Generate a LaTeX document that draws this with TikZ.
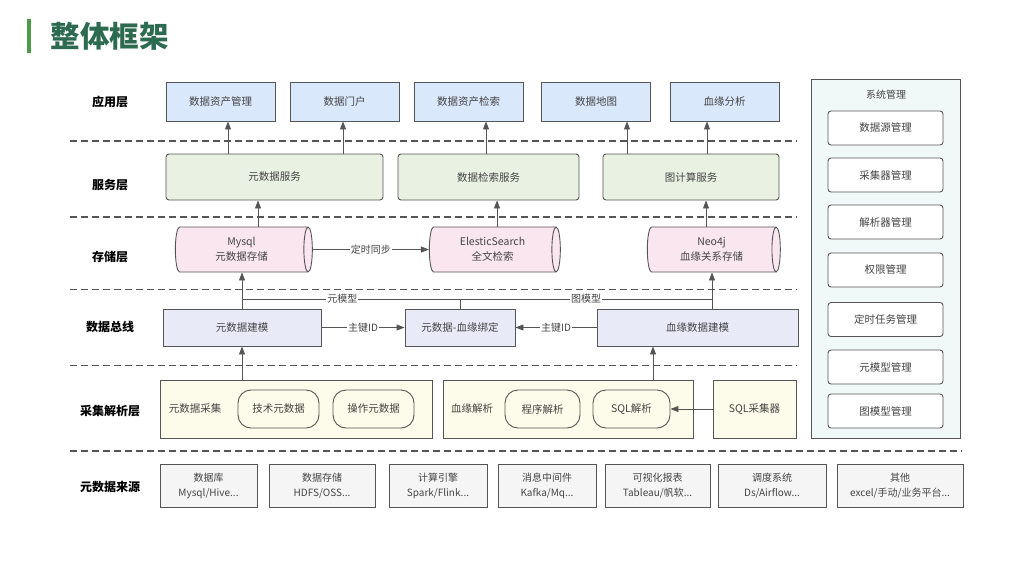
\documentclass[tikz,border=0pt]{standalone}
\usepackage{fontspec}
\setmainfont{Noto Sans CJK SC}
\usetikzlibrary{arrows.meta,shapes.geometric}
\definecolor{appfill}{HTML}{DAE8FC}
\definecolor{srvfill}{HTML}{E9F1E3}
\definecolor{cylfill}{HTML}{F9E6EE}
\definecolor{busfill}{HTML}{E8EAF8}
\definecolor{colfill}{HTML}{FDFBE9}
\definecolor{srcfill}{HTML}{F5F5F5}
\definecolor{sysfill}{HTML}{F1F8F8}
\definecolor{edge}{HTML}{555555}
\definecolor{txt}{HTML}{444444}
\definecolor{titlegreen}{HTML}{2C6B50}
\definecolor{bargreen}{HTML}{4E9A48}
\begin{document}
\begin{tikzpicture}[x=1pt,y=-1pt]
		\tikzset{box/.style={draw=edge, line width=0.9pt, text=txt, font=\fontsize{10.5}{15}\selectfont, align=center, inner sep=0pt}}
		\tikzset{appbox/.style={box, fill=appfill, minimum width=109pt, minimum height=39pt}}
		\tikzset{srvbox/.style={box, fill=srvfill, rounded corners=3pt, minimum height=46pt}}
		\tikzset{cyl/.style={box, cylinder, aspect=0.35, cylinder uses custom fill, cylinder body fill=cylfill, cylinder end fill=cylfill, minimum width=45pt}}
		\tikzset{busbox/.style={box, fill=busfill, minimum height=37pt}}
		\tikzset{colbox/.style={box, fill=colfill, minimum height=58pt}}
		\tikzset{pill/.style={box, fill=colfill, rounded corners=13pt, minimum height=38pt}}
		\tikzset{srcbox/.style={box, fill=srcfill, minimum height=43pt, font=\fontsize{10}{15}\selectfont}}
		\tikzset{sysbox/.style={box, fill=white, rounded corners=3pt, minimum width=115pt, minimum height=34pt}}
		\tikzset{layer/.style={font=\bfseries\fontsize{12}{14}\selectfont}}
		\tikzset{sep/.style={draw=edge, line width=1.1pt, dash pattern=on 7pt off 4pt}}
		\tikzset{arr/.style={draw=edge, line width=0.9pt, -{Triangle[length=8pt,width=6pt]}}}
		\tikzset{lbl/.style={fill=white, text=txt, font=\fontsize{10}{12}\selectfont, inner sep=1pt}}
		\useasboundingbox (0,0) rectangle (1024,576);

		\fill[bargreen] (27,19) rectangle (31,53);
		\node[anchor=west, text=titlegreen, font=\bfseries\fontsize{29.5}{32}\selectfont] (title) at (47,36) {整体框架};

		\draw[sep] (70,141) -- (797,141);
		\draw[sep] (70,217) -- (797,217);
		\draw[sep] (70,289.5) -- (797,289.5);
		\draw[sep] (70,365.5) -- (797,365.5);
		\draw[sep] (70,451) -- (962,451);

		\node[layer] (lapp) at (110,102) {应用层};
		\node[layer] (lsrv) at (110,185) {服务层};
		\node[layer] (lsto) at (110,257) {存储层};
		\node[layer] (lbus) at (110,327) {数据总线};
		\node[layer] (lcol) at (110,411) {采集解析层};
		\node[layer] (lsrc) at (110,487) {元数据来源};

		\node[appbox] (asset) at (220.5,101.5) {数据资产管理};
		\node[appbox] (portal) at (344.5,101.5) {数据门户};
		\node[appbox] (search) at (468.5,101.5) {数据资产检索};
		\node[appbox] (map) at (596,101.5) {数据地图};
		\node[appbox] (lineage) at (724.5,101.5) {血缘分析};

		\node[srvbox, minimum width=217pt] (metasrv) at (274.5,177) {元数据服务};
		\node[srvbox, minimum width=181pt] (searchsrv) at (488.5,177) {数据检索服务};
		\node[srvbox, minimum width=176pt] (graphsrv) at (691,177) {图计算服务};

		\node[cyl, minimum height=137pt] (mysql) at (241.5,249.5) {Mysql\\元数据存储};
		\node[cyl, minimum height=131pt] (es) at (492.5,249.5) {ElesticSearch\\全文检索};
		\node[cyl, minimum height=133pt] (neo) at (711.5,249.5) {Neo4j\\血缘关系存储};

		\node[busbox, minimum width=158pt] (metamodel) at (242,327.5) {元数据建模};
		\node[busbox, minimum width=110pt] (bind) at (460,327.5) {元数据-血缘绑定};
		\node[busbox, minimum width=201pt] (linemodel) at (697.5,327.5) {血缘数据建模};

		\node[colbox, minimum width=272pt] (metacol) at (296,409) {};
		\node[text=txt, font=\fontsize{10.5}{13}\selectfont] (metacoltxt) at (195,409) {元数据采集};
		\node[pill, minimum width=81pt] (tech) at (278.5,409) {技术元数据};
		\node[pill, minimum width=81pt] (oper) at (373.5,409) {操作元数据};
		\node[colbox, minimum width=250pt] (linecol) at (568,409) {};
		\node[text=txt, font=\fontsize{10.5}{13}\selectfont] (linecoltxt) at (472,409) {血缘解析};
		\node[pill, minimum width=75pt] (prog) at (542.5,409) {程序解析};
		\node[pill, minimum width=77pt] (sqlp) at (631.5,409) {SQL解析};
		\node[colbox, minimum width=83pt] (sqlc) at (754.5,409) {SQL采集器};

		\node[srcbox, minimum width=97pt] (db) at (208.5,485.5) {数据库\\Mysql/Hive...};
		\node[srcbox, minimum width=106pt] (store) at (322,485.5) {数据存储\\HDFS/OSS...};
		\node[srcbox, minimum width=98pt] (engine) at (438,485.5) {计算引擎\\Spark/Flink...};
		\node[srcbox, minimum width=98pt] (mq) at (547,485.5) {消息中间件\\Kafka/Mq...};
		\node[srcbox, minimum width=105pt] (report) at (657.5,485.5) {可视化报表\\Tableau/帆软...};
		\node[srcbox, minimum width=108pt] (sched) at (772,485.5) {调度系统\\Ds/Airflow...};
		\node[srcbox, minimum width=126pt] (other) at (900,485.5) {其他\\excel/手动/业务平台...};

		\node[box, fill=sysfill, minimum width=149pt, minimum height=359pt] (sys) at (885.5,258.5) {};
		\node[text=txt, font=\fontsize{10}{12}\selectfont] (systitle) at (886,95) {系统管理};
		\node[sysbox] (m1) at (885.5,128) {数据源管理};
		\node[sysbox] (m2) at (885.5,175) {采集器管理};
		\node[sysbox] (m3) at (885.5,222) {解析器管理};
		\node[sysbox] (m4) at (885.5,270) {权限管理};
		\node[sysbox] (m5) at (885.5,319.5) {定时任务管理};
		\node[sysbox] (m6) at (885.5,367) {元模型管理};
		\node[sysbox] (m7) at (885.5,411) {图模型管理};

    \draw[arr] (metasrv.north -| 228,0) -- (asset.south -| 228,0);
    \draw[arr] (metasrv.north -| 343,0) -- (portal.south -| 343,0);
    \draw[arr] (searchsrv.north -| 486,0) -- (search.south -| 486,0);
    \draw[arr] (graphsrv.north -| 627,0) -- (map.south -| 627,0);
    \draw[arr] (graphsrv.north -| 707,0) -- (lineage.south -| 707,0);

    \draw[arr] (mysql.north -| 258,0) -- (metasrv.south -| 258,0);
    \draw[arr] (es.north -| 497,0) -- (searchsrv.south -| 497,0);
    \draw[arr] (neo.north -| 706,0) -- (graphsrv.south -| 706,0);

    \draw[arr] (mysql.east) -- node[lbl] {定时同步} (es.west);

    \coordinate (mmjoin) at (242,299);
    \coordinate (gmjoin) at (712,299);
    \draw[arr] (metamodel.north) -- (mysql.south -| metamodel.north);
    \draw[arr] (linemodel.north -| gmjoin) -- (neo.south -| gmjoin);
    \draw[draw=edge, line width=0.9pt] (bind.north) -- (bind.north |- mmjoin) -- node[lbl, pos=0.54] {元模型} (mmjoin);
    \draw[draw=edge, line width=0.9pt] (bind.north |- gmjoin) -- node[lbl, pos=0.5] {图模型} (gmjoin);
    \draw[arr] (metamodel.east) -- node[lbl] {主键ID} (bind.west);
    \draw[arr] (linemodel.west) -- node[lbl] {主键ID} (bind.east);

    \draw[arr] (metacol.north -| metamodel.south) -- (metamodel.south);
    \draw[arr] (linecol.north -| 653,0) -- (linemodel.south -| 653,0);
    \draw[arr] (sqlc.west) -- (sqlp.east);

\end{tikzpicture}
\end{document}
